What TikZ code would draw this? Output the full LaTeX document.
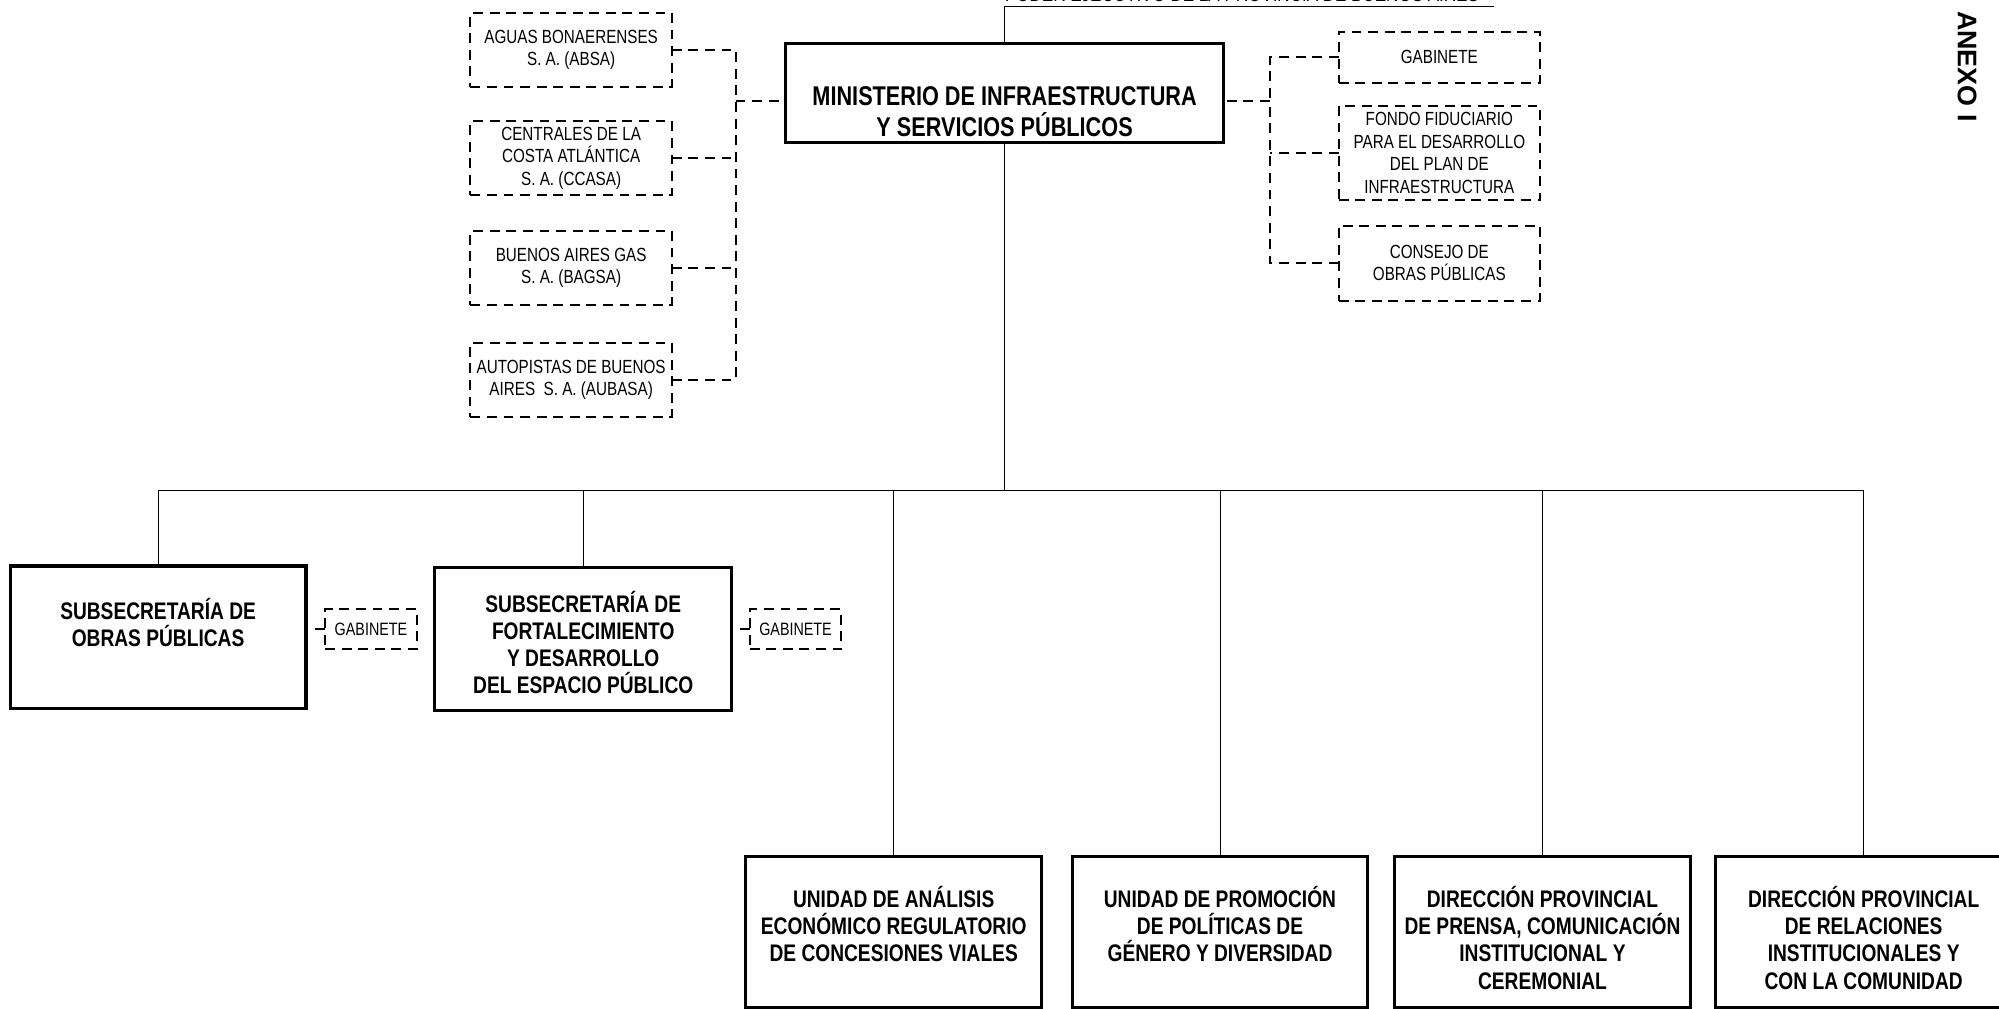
\documentclass[tikz,border=0pt]{standalone}
\usepackage{fontspec}
\setmainfont{Liberation Sans}[FakeStretch=0.8]
\newfontfamily\wideFont{Liberation Sans}
\usetikzlibrary{positioning}

\begin{document}
\begin{tikzpicture}[x=0.02cm,y=0.02cm,
        conn/.style={line width=0.45pt},
        dline/.style={line width=0.9pt,dash pattern=on 4.4pt off 3pt},
        dbox/.style={draw,dline,outer sep=0pt,inner sep=1pt,minimum width=3.16cm,align=center,font=\fontsize{8.5}{10}\selectfont},
        gabsmall/.style={dbox,minimum width=1.44cm,minimum height=0.62cm,inner sep=0pt,font=\fontsize{8}{9}\selectfont},
        mainbox/.style={draw,line width=1.4pt,outer sep=0pt,inner sep=0pt,align=center,minimum width=4.64cm,font=\bfseries\fontsize{10.7}{12.1}\selectfont},
        unitbox/.style 2 args={mainbox,text height=#1,text depth=#2}]
        \useasboundingbox (0,0) rectangle (1568,-791);

        \node[anchor=base west,inner sep=0pt,font=\fontsize{9.5}{11}\selectfont](poder) at (788,-1.3){PODER EJECUTIVO DE LA PROVINCIA DE BUENOS AIRES};
        \coordinate (poderend) at (1172,-5);
        \node[font=\wideFont\bfseries\fontsize{12}{14}\selectfont,rotate=-90](anexo) at (1543,-52){ANEXO I};

        \node[mainbox,anchor=north,minimum width=6.88cm,text height=1.464cm,text depth=0.096cm,font=\bfseries\fontsize{12.1}{14.1}\selectfont](min) at (788,-34){MINISTERIO DE INFRAESTRUCTURA\\Y SERVICIOS PÚBLICOS};

        % empresas
        \node[dbox,minimum height=1.16cm](absa) at (448,-39){AGUAS BONAERENSES\\S. A. (ABSA)};
        \node[dbox,minimum height=1.16cm](ccasa)[below = 0.54cm of absa]{CENTRALES DE LA\\COSTA ATLÁNTICA\\S. A. (CCASA)};
        \node[dbox,minimum height=1.16cm](bagsa)[below = 0.56cm of ccasa]{BUENOS AIRES GAS\\S. A. (BAGSA)};
        \node[dbox,minimum height=1.16cm](aubasa)[below = 0.6cm of bagsa]{AUTOPISTAS DE BUENOS\\AIRES \ S. A. (AUBASA)};

        \node[dbox,minimum height=0.8cm](gab) at (1129,-45){GABINETE};
        \node[dbox,minimum height=1.48cm](fondo)[below = 0.36cm of gab]{FONDO FIDUCIARIO\\PARA EL DESARROLLO\\DEL PLAN DE\\INFRAESTRUCTURA};
        \node[dbox,minimum height=1.18cm](consejo)[below = 0.4cm of fondo]{CONSEJO DE\\OBRAS PÚBLICAS};

        % subsecretarias
        \node[unitbox={1.26cm}{0.98cm},anchor=north](sop) at (124,-444){SUBSECRETARÍA DE\\OBRAS PÚBLICAS};
        \node[unitbox={1.981cm}{0.259cm},anchor=north,minimum width=4.66cm](sfdep) at (457.5,-445){SUBSECRETARÍA DE\\FORTALECIMIENTO\\Y DESARROLLO\\DEL ESPACIO PÚBLICO};
        \node[gabsmall](gabsop) at (291,-493.5){GABINETE};
        \node[gabsmall](gabsfdep) at (624,-493.5){GABINETE};

        \node[unitbox={1.651cm}{0.709cm},anchor=north](uaer) at (701,-672){UNIDAD DE ANÁLISIS\\ECONÓMICO REGULATORIO\\DE CONCESIONES VIALES};
        \node[unitbox={1.651cm}{0.709cm}](uppgd)[right = 0.48cm of uaer]{UNIDAD DE PROMOCIÓN\\DE POLÍTICAS DE\\GÉNERO Y DIVERSIDAD};
        \node[unitbox={2.076cm}{0.284cm}](dppcic)[right = 0.42cm of uppgd]{DIRECCIÓN PROVINCIAL\\DE PRENSA, COMUNICACIÓN\\INSTITUCIONAL Y\\CEREMONIAL};
        \node[unitbox={2.076cm}{0.284cm}](dpric)[right = 0.4cm of dppcic]{DIRECCIÓN PROVINCIAL\\DE RELACIONES\\INSTITUCIONALES Y\\CON LA COMUNIDAD};

        \coordinate (bus) at (788,-385);
        \coordinate (lbus) at (577,-79);
        \coordinate (rbus) at (996,-79);

        \draw[conn] (min.north) |- (poderend);
        \draw[conn] (min.south) -- (bus);
        \draw[conn] (sop.north) |- (dpric.north |- bus) -- (dpric.north);
        \foreach \n in {sfdep,uaer,uppgd,dppcic}
            \draw[conn] (\n.north) -- (\n.north |- bus);

        \draw[dline] (absa.east) -| (lbus);
        \draw[dline] (aubasa.east) -| (lbus);
        \draw[dline] (ccasa.east) -- (ccasa.east -| lbus);
        \draw[dline] (bagsa.east) -- (bagsa.east -| lbus);
        \draw[dline] (lbus) -- (lbus -| min.west);
        \draw[dline] (gab.west) -| (rbus);
        \draw[dline] (consejo.west) -| (rbus);
        \draw[dline] (fondo.west) -- (fondo.west -| rbus);
        \draw[dline] (rbus) -- (rbus -| min.east);
        \draw[dline] (gabsop.west) -- ++(-8,0);
        \draw[dline] (gabsfdep.west) -- ++(-8,0);
\end{tikzpicture}
\end{document}
